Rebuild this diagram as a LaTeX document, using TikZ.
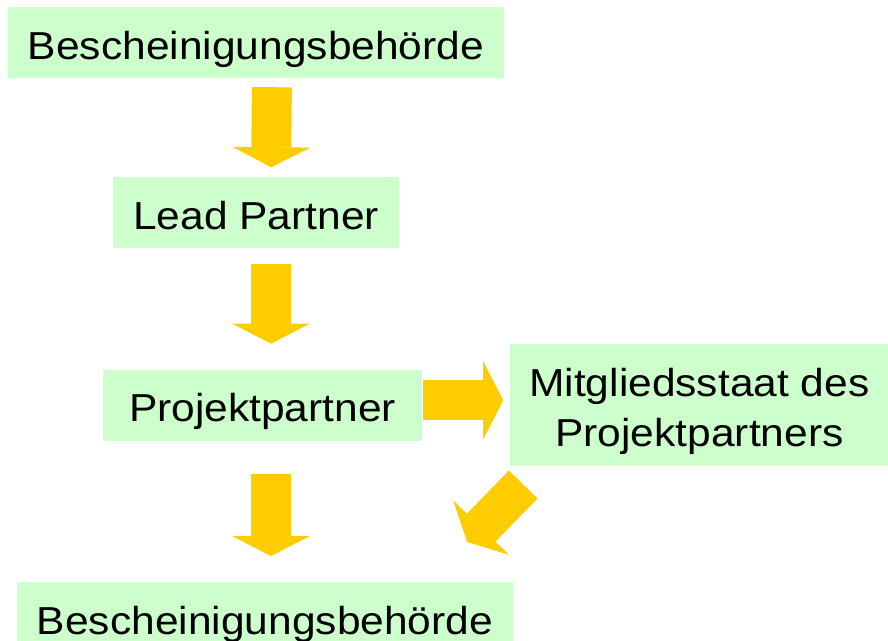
\documentclass[tikz,border=0pt]{standalone}
\usepackage{fontspec}
\setmainfont{Liberation Sans}[FakeStretch=1.09]
\usepackage{xcolor}
\usetikzlibrary{arrows.meta, positioning}
\definecolor{boxgreen}{RGB}{204,255,204}
\definecolor{arrowgold}{RGB}{255,204,0}

\begin{document}
\begin{tikzpicture}[
  box/.style={rectangle, fill=boxgreen, inner sep=0pt, text height=52pt, text depth=19pt,
              minimum height=71pt, align=center, font=\fontsize{39}{50}\selectfont},
  arrow/.style={-{Triangle[width=78pt, length=20pt, line width=0pt]}, line width=40pt, draw=arrowgold}]

  \useasboundingbox (0,0) rectangle (888pt,-640pt);
  \clip (0,0) rectangle (888pt,-640pt);

  \node[box, minimum width=496pt] (BB1) at (256pt,-42.5pt) {Bescheinigungsbehörde};
  \node[box, minimum width=286pt, below=99pt of BB1] (LP) {Lead Partner};
  \node[box, minimum width=319pt, below=121pt of LP, xshift=6.5pt] (PP) {Projektpartner};
  \node[box, minimum width=378pt, minimum height=122pt, text height=102pt, text depth=20pt, right=88pt of PP] (MS) {Mitgliedsstaat des\\Projektpartners};
  \node[box, minimum width=496pt, below=141pt of PP, xshift=2.5pt] (BB2) {Bescheinigungsbehörde};

  \draw[arrow, shorten <=9pt, shorten >=10pt] ([xshift=16pt]BB1.south) -- ([xshift=15pt]LP.north);
  \draw[arrow, shorten <=15pt, shorten >=26pt] ([xshift=15pt]LP.south) -- ([xshift=8.5pt]PP.north);
  \draw[arrow, shorten <=1pt, shorten >=7pt] ([yshift=5pt]PP.east) -- ([yshift=5pt]MS.west);
  \draw[arrow, shorten <=33pt, shorten >=26pt] ([xshift=8.5pt]PP.south) -- ([xshift=6pt]BB2.north);
  \draw[arrow] ([shift={(13pt,-18pt)}]MS.south west) -- ([shift={(-46pt,40pt)}]BB2.north east);
\end{tikzpicture}
\end{document}
